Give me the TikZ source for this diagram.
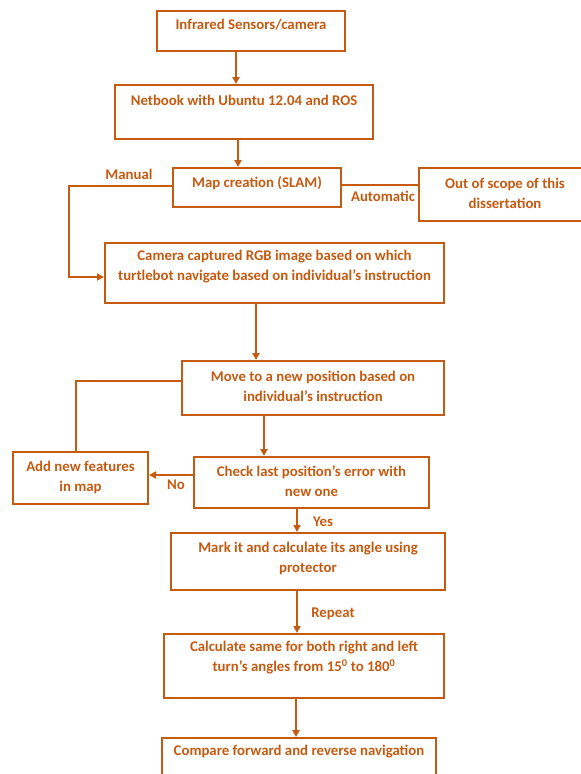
\documentclass[tikz,border=0pt]{standalone}
\usepackage{fontspec}
\setmainfont{Carlito}[BoldFont={Carlito Bold}]
\usetikzlibrary{arrows.meta}
\definecolor{rust}{HTML}{C55A11}
\tikzset{
  box/.style={draw=rust, line width=2pt, fill=white, inner sep=0pt},
  txt/.style={text=rust, font=\bfseries\fontsize{14.8}{20}\selectfont, align=center, inner sep=0pt},
  lbl/.style={text=rust, font=\bfseries\fontsize{14.8}{16}\selectfont, inner sep=0pt},
  link/.style={draw=rust, line width=2pt},
  arr/.style={link, -{Triangle[length=7pt,width=7pt]}},
}
\begin{document}
\begin{tikzpicture}[x=1pt, y=-1pt]
\useasboundingbox (0,0) rectangle (581,774);

% boxes, placed by their centres
\node[box, minimum width=188pt, minimum height=40pt] (b1) at (251,31) {};
\node[box, minimum width=258pt, minimum height=54pt] (b2) at (244,112) {};
\node[box, minimum width=168pt, minimum height=39pt] (b3) at (257,187.5) {};
\node[box, minimum width=171pt, minimum height=53pt] (b5) at (504.5,194.5) {};
\node[box, minimum width=339pt, minimum height=60pt] (b4) at (274.5,273) {};
\node[box, minimum width=262pt, minimum height=54pt] (b6) at (313,388) {};
\node[box, minimum width=135pt, minimum height=52pt] (b7) at (80.5,478) {};
\node[box, minimum width=235pt, minimum height=51pt] (b8) at (311.5,482.5) {};
\node[box, minimum width=274pt, minimum height=57pt] (b9) at (308,561.5) {};
\node[box, minimum width=280pt, minimum height=64pt] (b10) at (304,666) {};
\node[box, minimum width=274pt, minimum height=56pt] (b11) at (299,766) {};

% box texts
\node[txt] (t1) at (251,25) {Infrared Sensors/camera};
\node[txt] (t2) at (244,100) {Netbook with Ubuntu 12.04 and ROS};
\node[txt] (t3) at (257,183) {Map creation (SLAM)};
\node[txt] (t5) at (505,193) {Out of scope of this\\dissertation};
\node[txt] (t4) at (274.5,267) {Camera captured RGB image based on which\\turtlebot navigate based on individual’s instruction};
\node[txt] (t6) at (313,386) {Move to a new position based on\\individual’s instruction};
\node[txt] (t7) at (80.5,477) {Add new features\\in map};
\node[txt] (t8) at (311.5,481) {Check last position’s error with\\new one};
\node[txt] (t9) at (308,558.5) {Mark it and calculate its angle using\\protector};
\node[txt] (t10) at (304,658) {Calculate same for both right and left\\turn’s angles from 15\textsuperscript{0} to 180\textsuperscript{0}};
\node[txt] (t11) at (299,752) {Compare forward and reverse navigation};

% connector labels
\node[lbl] (lman) at (129,174) {Manual};
\node[lbl] (laut) at (383,196) {Automatic};
\node[lbl] (lno) at (176,485) {No};
\node[lbl] (lyes) at (323,522) {Yes};
\node[lbl] (lrep) at (333,614) {Repeat};

% connectors
\draw[arr] (b1.south -| 236,0) -- (b2.north -| 236,0);
\draw[arr] (b2.south -| 238,0) -- (b3.north -| 238,0);
\draw[arr] (b3.west |- 0,186) -- (69,186) -- (69,277) -- (b4.west |- 0,277);
\draw[link] (b3.east |- 0,185) -- (b5.west |- 0,185);
\draw[arr] (b4.south -| 256,0) -- (b6.north -| 256,0);
\draw[link] (b6.west |- 0,381) -- (76,381) -- (b7.north -| 76,0);
\draw[arr] (b6.south -| 264,0) -- (b8.north -| 264,0);
\draw[arr] (b8.west |- 0,475) -- (b7.east |- 0,475);
\draw[arr] (b8.south -| 297,0) -- (b9.north -| 297,0);
\draw[arr] (b9.south -| 297,0) -- (b10.north -| 297,0);
\draw[arr] (b10.south -| 296,0) -- (b11.north -| 296,0);
\end{tikzpicture}
\end{document}
